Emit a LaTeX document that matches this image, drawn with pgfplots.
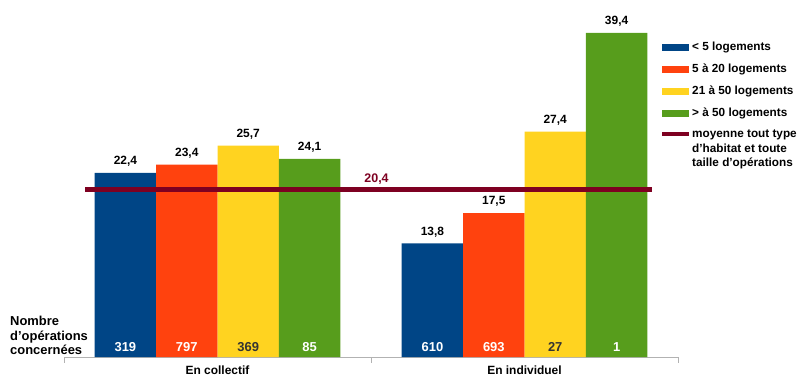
\documentclass[border=0pt]{standalone}
\usepackage{fontspec}
\setmainfont{Liberation Sans}
\usepackage{pgfplots}
\pgfplotsset{compat=1.18}
\definecolor{cblue}{HTML}{004586}
\definecolor{cred}{HTML}{FF420E}
\definecolor{cyel}{HTML}{FFD320}
\definecolor{cgreen}{HTML}{579D1C}
\definecolor{cmaroon}{HTML}{7E0021}
\pgfplotsset{
  legbar/.style={legend image code/.code={\fill[##1, draw=none] (0bp,-3.5bp) rectangle (27bp,3.5bp);}},
  legline/.style={legend image code/.code={\fill[##1, draw=none] (0bp,12.5bp) rectangle (27bp,16.5bp);}},
  cnt/.style={only marks, mark=none, forget plot, point meta=explicit symbolic, nodes near coords,
    every node near coord/.append style={#1, anchor=center, yshift=-3bp, font=\bfseries\fontsize{13}{15}\selectfont}},
}
\begin{document}
\begin{tikzpicture}
\clip (0bp,0bp) rectangle (797bp,376bp);
\path[use as bounding box] (0bp,0bp) rectangle (797bp,376bp);
\begin{axis}[
  at={(64bp,19bp)}, anchor=south west,
  scale only axis, width=614bp, height=329bp,
  xmin=-0.5, xmax=1.5, ymin=0, ymax=40,
  clip=false,
  axis x line*=bottom, axis y line=none,
  x axis line style={draw=black!30, line width=0.8bp, -},
  xtick={0,1}, xticklabels={En collectif, En individuel},
  major x tick style={draw=none},
  extra x ticks={-0.5,0.5,1.5}, extra x tick labels={},
  extra x tick style={major tick length=6bp, tick align=outside, major x tick style={draw=black!30, line width=0.8bp}},
  xticklabel style={font=\bfseries\fontsize{12}{14}\selectfont, yshift=-5bp},
  bar width=0.2,
  /pgf/number format/.cd, use comma, fixed, fixed zerofill, precision=1, assume math mode=true,
  /pgfplots/.cd,
  every node near coord/.append style={font=\bfseries\fontsize{12}{14}\selectfont, black, yshift=3bp},
  legend cell align=left,
  legend style={draw=none, fill=none, at={(0.974,0.957)}, anchor=north west, inner sep=0pt,
    row sep=11.8bp, font=\bfseries\fontsize{11.8}{14.5}\selectfont,
    nodes={inner sep=0pt, align=left},
    /tikz/every odd column/.append style={column sep=3bp}},
]
\addlegendimage{legbar, fill=cblue}
\addlegendentry{< 5 logements}
\addlegendimage{legbar, fill=cred}
\addlegendentry{5 à 20 logements}
\addlegendimage{legbar, fill=cyel}
\addlegendentry{21 à 50 logements}
\addlegendimage{legbar, fill=cgreen}
\addlegendentry{> à 50 logements}
\addlegendimage{legline, fill=cmaroon}
\addlegendentry{moyenne tout type\\d’habitat et toute\\taille d’opérations}

% bars: left group centred at 0 (En collectif), right group at 1 (En individuel)
\addplot[ybar, bar shift=0pt, fill=cblue, draw=none, nodes near coords, forget plot] coordinates {(-0.3,22.4) (0.7,13.8)};
\addplot[ybar, bar shift=0pt, fill=cred, draw=none, nodes near coords, forget plot] coordinates {(-0.1,23.4) (0.9,17.5)};
\addplot[ybar, bar shift=0pt, fill=cyel, draw=none, nodes near coords, forget plot] coordinates {(0.1,25.7) (1.1,27.4)};
\addplot[ybar, bar shift=0pt, fill=cgreen, draw=none, nodes near coords, forget plot] coordinates {(0.3,24.1) (1.3,39.4)};

% average line
\addplot[cmaroon, line width=5bp, forget plot] coordinates {(-0.43,20.4) (1.415,20.4)};
\addplot[only marks, mark=none, forget plot, nodes near coords,
  every node near coord/.append style={cmaroon, anchor=south, yshift=-2bp, font=\bfseries\fontsize{12.5}{14}\selectfont}] coordinates {(0.518,20.4)};

% number of operations
\addplot[cnt=white] coordinates {(-0.3,1.2)[319] (0.7,1.2)[610]};
\addplot[cnt=white] coordinates {(-0.1,1.2)[797] (0.9,1.2)[693]};
\addplot[cnt=black!80] coordinates {(0.1,1.2)[369] (1.1,1.2)[27]};
\addplot[cnt=white] coordinates {(0.3,1.2)[85] (1.3,1.2)[1]};
\end{axis}
\node[anchor=north west, inner sep=0pt, align=left, font=\bfseries\fontsize{13}{14.5}\selectfont] at (10bp,60bp) {Nombre\\d’opérations\\concernées};
\end{tikzpicture}
\end{document}
